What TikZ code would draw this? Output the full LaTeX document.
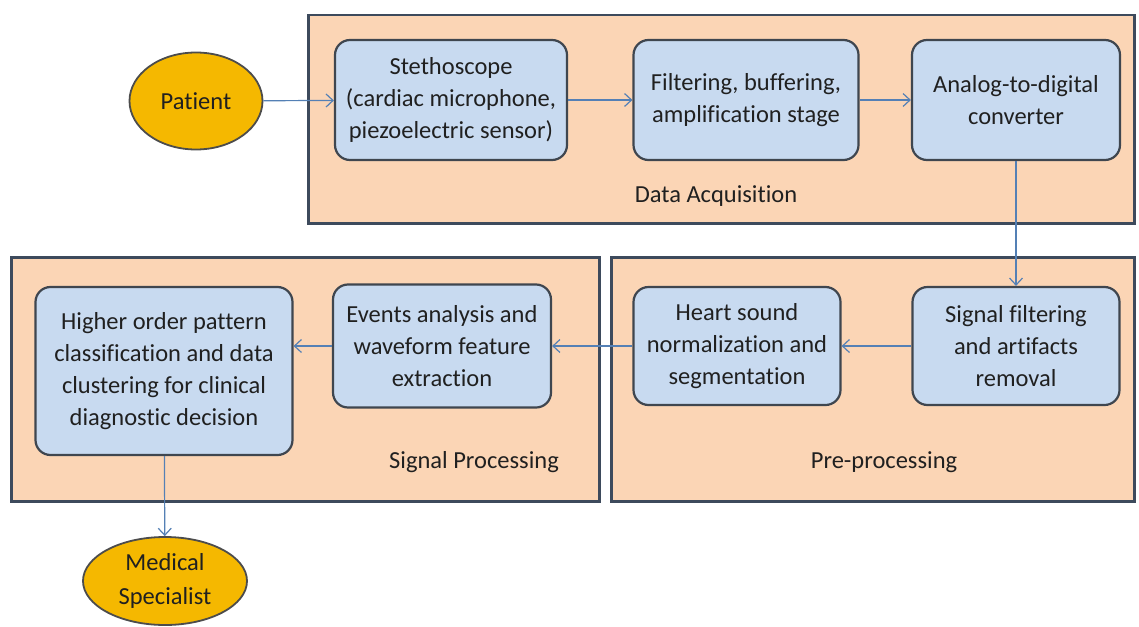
\documentclass[tikz,border=0pt]{standalone}
\usepackage{fontspec}
\setmainfont{Carlito}[Ligatures=NoCommon]
\usepackage{tikz}
\usetikzlibrary{arrows.meta,positioning,shapes.geometric}
\definecolor{panelfill}{HTML}{FBD5B5}
\definecolor{paneledge}{HTML}{3D4A5C}
\definecolor{stagefill}{HTML}{C8DAF0}
\definecolor{stageedge}{HTML}{3F464F}
\definecolor{flowblue}{HTML}{5480B5}
\definecolor{termfill}{HTML}{F5B800}
\definecolor{inktext}{HTML}{202020}

\tikzset{
  panel/.style={draw=paneledge, line width=2.5pt, fill=panelfill,
                anchor=north west, inner sep=0pt},
  stage/.style={draw=stageedge, line width=2.2pt, fill=stagefill,
                rounded corners=15pt, align=center, inner sep=1pt,
                font=\fontsize{24.5}{32}\selectfont, text=inktext},
  terminal/.style={ellipse, draw=black!70, line width=1.8pt, fill=termfill,
                   align=center, inner sep=0pt,
                   font=\fontsize{24.5}{34}\selectfont, text=inktext},
  caption/.style={font=\fontsize{24.5}{30}\selectfont, text=inktext},
  flow/.style={draw=flowblue, line width=1.2pt,
               -{Straight Barb[length=7pt,width=13pt]}}
}

\begin{document}
\begin{tikzpicture}[x=1pt,y=-1pt]
  \useasboundingbox[fill=white] (0,0) rectangle (1139,626);
  % Panels
  \node[panel, minimum width=826, minimum height=208] (acqpanel) at (307,14) {};
  \node[panel, minimum width=588, minimum height=244] (procpanel) at (10,256) {};
  \node[panel, minimum width=523, minimum height=244] (prepanel) at (610,256) {};
  % Panel captions
  \node[caption] (acqcap) at (716,196) {Data Acquisition};
  \node[caption] (proccap) at (474,462) {Signal Processing};
  \node[caption] (precap) at (884,462) {Pre-processing};
  % Terminals
  \node[terminal, minimum width=133, minimum height=97] (patient) at (196,101) {Patient};
  \node[terminal, minimum width=164, minimum height=88] (medic) at (165,581) {Medical\\Specialist};
  % Acquisition stages
  \node[stage, minimum width=232, minimum height=120] (steth) at (451,100)
       {Stethoscope\\(cardiac microphone,\\piezoelectric sensor)};
  \node[stage, minimum width=225, minimum height=120] (buffer) at (746,100)
       {Filtering, buffering,\\amplification stage};
  \node[stage, minimum width=208, minimum height=120] (adc) at (1016,100)
       {Analog-to-digital\\converter};
  % Processing stages
  \node[stage, minimum width=207, minimum height=118] (artifact) at (1016,346)
       {Signal filtering\\and artifacts\\removal};
  \node[stage, minimum width=207, minimum height=118] (segment) at (737,346)
       {Heart sound\\normalization and\\segmentation};
  \node[stage, minimum width=218, minimum height=123] (feature) at (442,346)
       {Events analysis and\\waveform feature\\extraction};
  \node[stage, minimum width=257, minimum height=168] (classify) at (164,371)
       {Higher order pattern\\classification and data\\clustering for clinical\\diagnostic decision};
  % Connectors
  \draw[flow] (patient) -- (steth);
  \draw[flow] (steth) -- (buffer);
  \draw[flow] (buffer) -- (adc);
  \draw[flow] (adc) -- (artifact);
  \draw[flow] (artifact) -- (segment);
  \draw[flow] (segment) -- (feature);
  \draw[flow] (feature.west) -- (feature.west -| classify.east);
  \draw[flow] (classify) -- (medic);
\end{tikzpicture}
\end{document}
